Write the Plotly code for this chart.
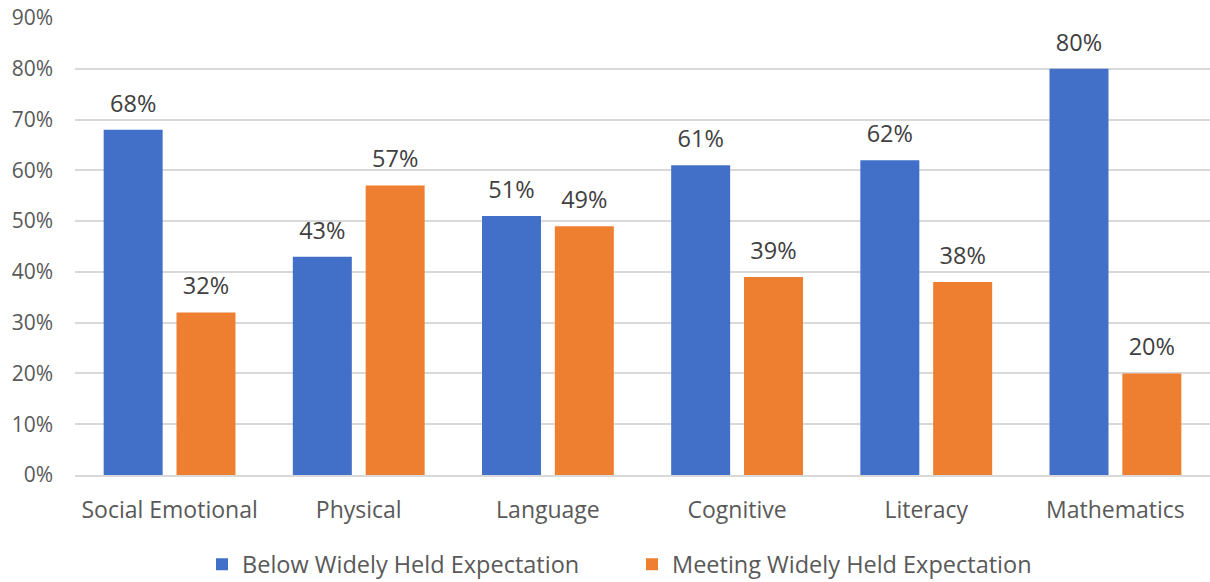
import plotly.graph_objects as go

categories = ["Social Emotional", "Physical", "Language", "Cognitive", "Literacy", "Mathematics"]
below = [68, 43, 51, 61, 62, 80]
meeting = [32, 57, 49, 39, 38, 20]
series_names = ["Below Widely Held Expectation", "Meeting Widely Held Expectation"]
tick_vals = [0, 10, 20, 30, 40, 50, 60, 70, 80, 90]
tick_text = [f"{v}%" for v in tick_vals]

FONT = "Open Sans, Noto Sans, sans-serif"
COLORS = ["#4270C8", "#EF7F30"]
LABEL_PAD = 1.6  # extra gap (in axis units) between bar top and its value label

fig = go.Figure()
for name, vals, color, grp in [(series_names[0], below, COLORS[0], "a"),
                               (series_names[1], meeting, COLORS[1], "b")]:
    fig.add_trace(go.Bar(
        x=categories, y=vals, name=name, offsetgroup=grp,
        marker=dict(color=color, line=dict(width=0)),
    ))
    # transparent spacer bar carrying the value label a little above the bar
    fig.add_trace(go.Bar(
        x=categories, y=[LABEL_PAD] * len(vals), base=vals, offsetgroup=grp,
        marker=dict(color="rgba(0,0,0,0)", line=dict(width=0)),
        text=[f"{v}%" for v in vals], textposition="outside",
        textfont=dict(size=23.5, color="#404040", family=FONT), cliponaxis=False,
        showlegend=False, hoverinfo="skip",
    ))

fig.update_layout(
    width=1210, height=582,
    margin=dict(l=75, r=0, t=18, b=107, autoexpand=False),
    paper_bgcolor="white", plot_bgcolor="white",
    barmode="group", bargap=0.23, bargroupgap=0.19,
    font=dict(family=FONT, color="#595959", size=20),
    legend=dict(orientation="h", xref="container", yref="container",
                x=202 / 1210, xanchor="left", y=0.03, yanchor="middle",
                font=dict(size=23.5, color="#595959"), itemwidth=30,
                traceorder="normal", entrywidth=385),
    showlegend=True,
    uniformtext=dict(mode=False),
)
fig.update_yaxes(range=[0, 90], tickvals=tick_vals, ticktext=tick_text,
                 showgrid=True, gridcolor="#D9D9D9", gridwidth=1.5,
                 zeroline=False, showline=False, ticks="", ticklabelstandoff=21,
                 tickfont=dict(size=21, color="#595959"))
fig.update_xaxes(showline=True, linecolor="#D9D9D9", linewidth=1.5, ticks="",
                 tickfont=dict(size=23, color="#595959"), ticklabelstandoff=14)

fig.write_html("out.html")
